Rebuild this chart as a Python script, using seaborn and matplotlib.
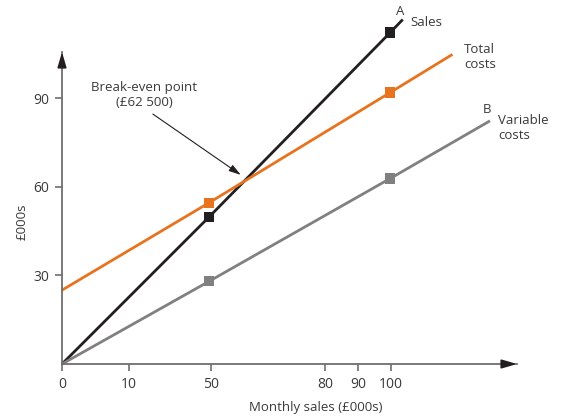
import matplotlib
matplotlib.use("Agg")
import matplotlib.pyplot as plt
import seaborn as sns
import pandas as pd

# ---- data ----
sales_x = [0, 44.7, 99.7, 103.5]
sales_y = [0, 49.8, 112.2, 116.6]
total_x = [0, 44.7, 99.7, 118.6]
total_y = [25.0, 54.6, 91.9, 104.8]
var_x = [0, 44.7, 99.7, 130.0]
var_y = [0, 28.0, 62.8, 82.3]
marker_idx = [1, 2]  # points drawn with square markers

x_tick_pos = [0, 20.3, 45.2, 80, 90, 100]
x_tick_labels = ["0", "10", "50", "80", "90", "100"]
y_ticks = [30, 60, 90]

colors = {"Sales": "#231f20", "Total costs": "#e8731e", "Variable costs": "#808080"}

rows = []
for name, xs, ys in [("Sales", sales_x, sales_y),
                     ("Total costs", total_x, total_y),
                     ("Variable costs", var_x, var_y)]:
    for i, (x, y) in enumerate(zip(xs, ys)):
        rows.append({"series": name, "x": x, "y": y, "marker": i in marker_idx})
df = pd.DataFrame(rows)

sns.set_theme(style="white")
plt.rcParams["font.family"] = ["Open Sans", "DejaVu Sans"]
TXT = "#3a3a3a"
AX = "#6e6e6e"

fig = plt.figure(figsize=(5.61, 4.16), dpi=100)
W, H = 561, 416
ax = fig.add_axes([62 / W, 52 / H, 455 / W, 312 / H])

sns.lineplot(data=df, x="x", y="y", hue="series", palette=colors, sort=False,
             linewidth=2.0, legend=False, ax=ax, estimator=None)
for line in ax.lines:
    line.set_clip_on(False)
    line.set_solid_capstyle("butt")
sns.scatterplot(data=df[df["marker"]], x="x", y="y", hue="series", palette=colors,
                marker="s", s=55, linewidth=0, legend=False, ax=ax, zorder=5,
                clip_on=False)

ax.set_xlim(0, 138.2)
ax.set_ylim(0, 105.6)

for s in ["top", "right"]:
    ax.spines[s].set_visible(False)
for s in ["left", "bottom"]:
    ax.spines[s].set_color(AX)
    ax.spines[s].set_linewidth(1.3)

# arrow heads on axes
ax.annotate("", xy=(1.0, 0), xytext=(0.97, 0), xycoords="axes fraction",
            arrowprops=dict(arrowstyle="-|>,head_length=0.75,head_width=0.22",
                            color="#231f20", lw=1.3, shrinkA=0, shrinkB=0))
ax.annotate("", xy=(0, 1.0), xytext=(0, 0.955), xycoords="axes fraction",
            arrowprops=dict(arrowstyle="-|>,head_length=0.75,head_width=0.22",
                            color="#231f20", lw=1.3, shrinkA=0, shrinkB=0))

ax.set_xticks(x_tick_pos)
ax.set_xticklabels(x_tick_labels)
ax.set_yticks(y_ticks)
ax.tick_params(axis="both", direction="out", length=5, width=1.2, color=AX,
               labelsize=10, labelcolor=TXT, pad=4, bottom=True, left=True)

ax.set_xlabel("Monthly sales (£000s)", fontsize=9.5, color=TXT)
ax.set_ylabel("£000s", fontsize=9.5, color=TXT)
ax.xaxis.set_label_coords((316 - 62) / 455, -(401 - 364) / 312)
ax.yaxis.set_label_coords(-(62 - 29) / 455, (364 - 222) / 312)

# series labels
fs = 9.5
ax.text(102.6, 119.2, "A", ha="center", va="center", fontsize=fs, color=TXT, clip_on=False)
ax.text(105.9, 115.6, "Sales", ha="left", va="center", fontsize=fs, color=TXT, clip_on=False)
ax.text(122.1, 103.9, "Total\ncosts", ha="left", va="center", fontsize=fs, color=TXT,
        linespacing=1.15, clip_on=False)
ax.text(129.2, 86.0, "B", ha="center", va="center", fontsize=fs, color=TXT, clip_on=False)
ax.text(132.5, 79.9, "Variable\ncosts", ha="left", va="center", fontsize=fs, color=TXT,
        linespacing=1.15, clip_on=False)

# break-even annotation
ax.text(24.9, 91.0, "Break-even point\n(£62 500)", ha="center", va="center",
        fontsize=fs, color=TXT, linespacing=1.15)
ax.annotate("", xy=(54.3, 64.0), xytext=(27.6, 84.6),
            arrowprops=dict(arrowstyle="-|>,head_length=0.6,head_width=0.18",
                            color="#231f20", lw=0.8, shrinkA=0, shrinkB=0))

fig.savefig("out.png", dpi=100)
